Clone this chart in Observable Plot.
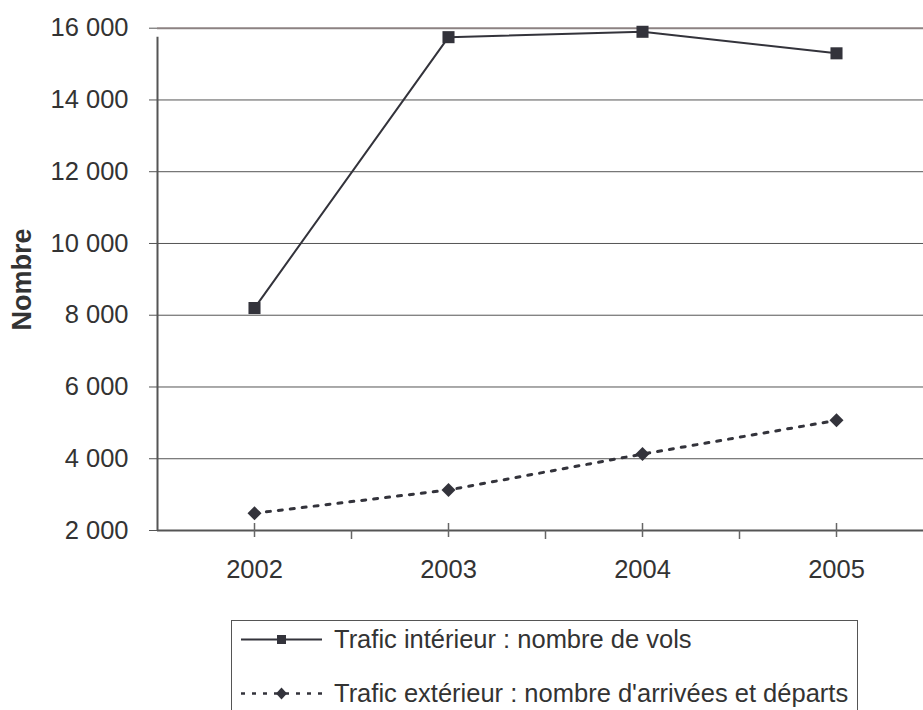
<!DOCTYPE html>
<html>
<head>
<meta charset="utf-8">
<script src="https://cdn.jsdelivr.net/npm/d3@7"></script>
<script src="https://cdn.jsdelivr.net/npm/@observablehq/plot@0.6"></script>
<style>
  html, body { margin: 0; padding: 0; background: #fff; }
  body { width: 923px; height: 710px; overflow: hidden; font-family: "Liberation Sans", Arial, sans-serif; color: #333; }
  #legend { position: relative; margin-left: 231px; margin-top: 8px; width: 627px; height: 120px; border: 1px solid #555; border-bottom: none; box-sizing: border-box; }
  .row { position: absolute; left: 0; height: 30px; display: flex; align-items: center; }
  .row svg { margin-left: 8px; }
  .row span { margin-left: 11px; font-size: 25.5px; color: #333; white-space: nowrap; }
</style>
</head>
<body>
<div id="chart"></div>
<div id="legend"></div>
<script>
const years = [2002, 2003, 2004, 2005];
const interieur = [8200, 15750, 15900, 15300];
const exterieur = [2480, 3130, 4130, 5070];
const yTicks = [2000, 4000, 6000, 8000, 10000, 12000, 14000, 16000];
const bounds = [2001.5, 2002.5, 2003.5, 2004.5];
const seriesNames = ["Trafic intérieur : nombre de vols", "Trafic extérieur : nombre d'arrivées et départs"];
const yLabel = "Nombre";

const dataInt = years.map((y, i) => ({year: y, value: interieur[i]}));
const dataExt = years.map((y, i) => ({year: y, value: exterieur[i]}));
const fr = d3.formatLocale({decimal: ",", thousands: " ", grouping: [3], currency: ["", " €"]}).format(",");
const ink = "#33333b";

const chart = Plot.plot({
  width: 923,
  height: 612,
  marginLeft: 157,
  marginRight: 0,
  marginTop: 28,
  marginBottom: 82,
  style: {fontFamily: "'Liberation Sans', Arial, sans-serif", fontSize: "25.5px", color: "#333", background: "#fff", overflow: "visible"},
  x: {type: "linear", domain: [2001.5, 2005.5], range: [157, 933]},
  y: {domain: [2000, 16000], range: [530, 27.7]},
  marks: [
    Plot.ruleY(yTicks.filter(v => v < 16000 && v > 2000), {stroke: "#555", strokeWidth: 1}),
    Plot.ruleY([16000], {stroke: "#8c8282", strokeWidth: 2}),
    Plot.ruleY(yTicks, {x1: 2001.5, x2: 2001.5, insetLeft: -8, stroke: "#555", strokeWidth: 1}),
    Plot.ruleY([2000], {stroke: "#555", strokeWidth: 2}),
    Plot.ruleX([2001.5], {y1: 2000, y2: 16000, insetBottom: -9, stroke: "#555", strokeWidth: 2}),
    Plot.ruleX(bounds.slice(1), {y1: 2000, y2: 2000, insetBottom: -9, stroke: "#666", strokeWidth: 1.5}),
    Plot.ruleX(years, {y1: 2000, y2: 2000, insetBottom: -7, insetTop: -7, stroke: "#666", strokeWidth: 1.5}),
    Plot.axisY({ticks: yTicks, tickSize: 0, tickPadding: 29, tickFormat: d => fr(d), label: null}),
    Plot.axisX({ticks: years, tickSize: 0, tickPadding: 29, tickFormat: d => String(d), label: null}),
    Plot.text([yLabel], {frameAnchor: "left", textAnchor: "middle", dx: -135, rotate: -90, fontWeight: "bold", fontSize: 27, fill: "#333"}),
    Plot.line(dataExt, {x: "year", y: "value", stroke: ink, strokeWidth: 3, strokeDasharray: "4,8"}),
    Plot.dot(dataExt, {x: "year", y: "value", symbol: "diamond2", r: 6.3, fill: ink, stroke: "none"}),
    Plot.line(dataInt, {x: "year", y: "value", stroke: ink, strokeWidth: 2}),
    Plot.dot(dataInt, {x: "year", y: "value", symbol: "square", r: 6.8, fill: ink, stroke: "none"})
  ]
});
document.getElementById("chart").appendChild(chart);

// Legend
const legend = document.getElementById("legend");
const rows = [
  {top: 3, dash: null, sym: "square", name: seriesNames[0]},
  {top: 57, dash: "4,7", sym: "diamond", name: seriesNames[1]}
];
rows.forEach(r => {
  const div = document.createElement("div");
  div.className = "row";
  div.style.top = r.top + "px";
  const marker = r.sym === "square"
    ? `<rect x="37" y="11" width="9" height="9" fill="${ink}"/>`
    : `<path d="M41.5,9.5 L47,15.5 L41.5,21.5 L36,15.5 Z" fill="${ink}"/>`;
  div.innerHTML = `<svg width="83" height="30"><line x1="1" x2="82" y1="15.5" y2="15.5" stroke="${ink}" stroke-width="${r.dash ? 2.5 : 2}" ${r.dash ? `stroke-dasharray="${r.dash}"` : ""}/>${marker}</svg><span>${r.name}</span>`;
  legend.appendChild(div);
});
</script>
</body>
</html>
